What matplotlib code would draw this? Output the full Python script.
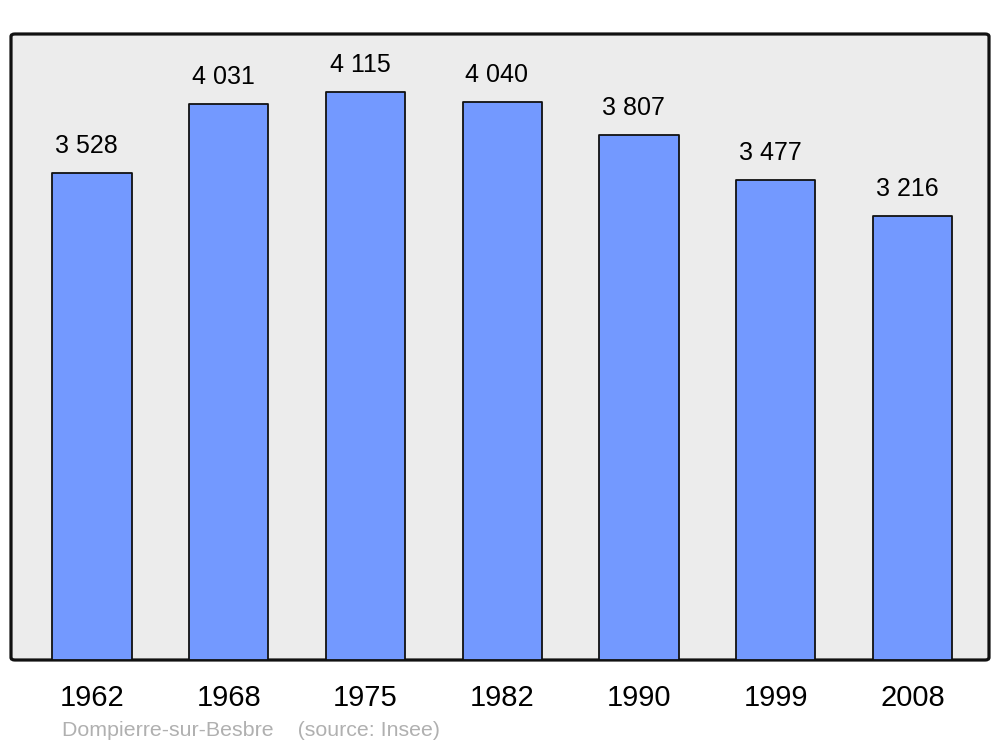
import matplotlib
matplotlib.use("Agg")
import matplotlib.pyplot as plt
from matplotlib.patches import FancyBboxPatch

years = ["1962", "1968", "1975", "1982", "1990", "1999", "2008"]
population = [3528, 4031, 4115, 4040, 3807, 3477, 3216]
value_labels = ["3 528", "4 031", "4 115", "4 040", "3 807", "3 477", "3 216"]
footer = "Dompierre-sur-Besbre    (source: Insee)"

plt.rcParams['font.family'] = ['Liberation Sans', 'DejaVu Sans']

fig = plt.figure(figsize=(10, 7.47), dpi=100)
ax = fig.add_axes([0.011, 1 - 660 / 747, 0.978, (660 - 34) / 747])
ax.patch.set_visible(False)
for s in ax.spines.values():
    s.set_visible(False)

frame = FancyBboxPatch((0, 0), 1, 1, boxstyle="round,pad=0,rounding_size=0.004",
                       transform=ax.transAxes, facecolor="#ececec",
                       edgecolor="#111111", linewidth=2.3, zorder=0, clip_on=False)
ax.add_patch(frame)

x = list(range(len(years)))
bars = ax.bar(x, population, width=0.58, color="#7399ff", edgecolor="#111111",
              linewidth=1.3, zorder=2)
for b in bars:
    b.set_joinstyle("round")

for xi, v, lab in zip(x, population, value_labels):
    ax.annotate(lab, (xi, v), xytext=(-4, 19.5), textcoords="offset points",
                ha="center", va="center", fontsize=18, color="#000000")

ax.set_xlim(-0.592, 6.559)
ax.set_ylim(0, 4536)
ax.set_yticks([])
ax.set_xticks(x)
ax.set_xticklabels(years, fontsize=21)
ax.tick_params(axis="x", length=0, pad=17)

fig.text(0.062, 1 - 730 / 747, footer, fontsize=15.4, color="#b0b0b0",
         ha="left", va="center")

fig.savefig("out.png", dpi=100)
